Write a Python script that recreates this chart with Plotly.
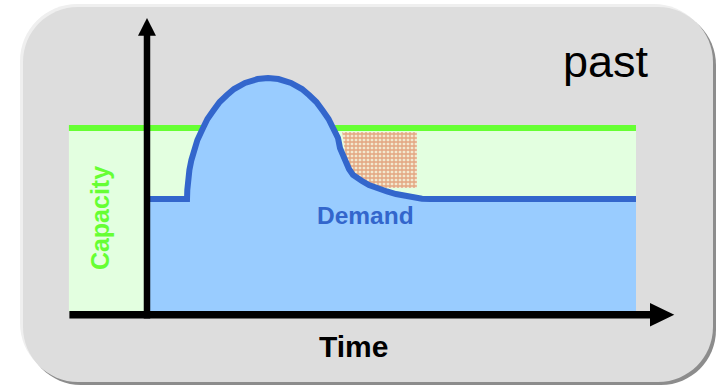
import plotly.graph_objects as go

W, H = 717, 387

# Demand over time (load in the same units as capacity, capacity = 100)
demand_time = [0.5, 8.2, 8.26, 8.4, 8.69, 9.1, 9.63, 10.33, 11.48, 12.38, 13.53, 14.88,
               16.39, 17.83, 20.08, 22.66, 24.8, 26.93, 29.51, 31.76, 33.2, 34.71, 36.07,
               37.21, 38.12, 39.14, 39.55, 40.37, 40.78, 41.39, 42.21, 43.03, 44.06, 45.49,
               47.34, 49.18, 51.02, 52.87, 54.51, 56.35, 57.99, 100.2]
demand_load = [61.4, 61.4, 66.3, 71.7, 77.2, 82.6, 88.0, 93.5, 100.0, 104.9, 109.2, 114.1,
               117.9, 121.2, 124.5, 126.6, 127.2, 126.6, 124.5, 121.2, 117.9, 114.1, 109.2,
               104.9, 100.0, 94.6, 89.1, 84.2, 79.9, 77.7, 74.5, 72.8, 71.2, 69.0,
               66.9, 65.5, 64.1, 63.0, 62.0, 61.6, 61.4, 61.4]

# Provisioned capacity
capacity_time = [-16.0, 100.2]
capacity_load = [100, 100]

# Idle capacity right after the peak
idle_time = [40.0, 55.3, 55.3, 49.0, 45.3, 42.4, 41.0, 40.6, 40.0]
idle_load = [97.8, 97.8, 67.4, 67.4, 69.6, 73.4, 78.3, 86.4, 97.8]

labels = {"past": "past", "capacity": "Capacity", "demand": "Demand", "time": "Time"}

X_RANGE = [-30.12, 116.8]
Y_RANGE = [-40.76, 169.57]

FONT = "Liberation Sans, Arial, Helvetica, sans-serif"
GREEN_LINE = "#66FF33"
GREEN_FILL = "#E3FFE0"
BLUE_LINE = "#3366CC"
BLUE_FILL = "#99CCFF"

fig = go.Figure()

fig.add_trace(go.Scatter(
    x=capacity_time, y=capacity_load, mode="lines",
    line=dict(color=GREEN_LINE, width=6),
    fill="tozeroy", fillcolor=GREEN_FILL, hoverinfo="skip",
))

fig.add_trace(go.Scatter(
    x=idle_time, y=idle_load, mode="lines", line=dict(width=0),
    fill="toself", fillcolor="rgba(0,0,0,0)",
    fillpattern=dict(shape="+", size=4, solidity=0.55,
                     fgcolor="#D4622E", bgcolor="#F2E9D0"),
    hoverinfo="skip",
))

fig.add_trace(go.Scatter(
    x=demand_time, y=demand_load, mode="lines",
    line=dict(color=BLUE_LINE, width=6),
    fill="tozeroy", fillcolor=BLUE_FILL, hoverinfo="skip",
))


def px2paper(x, y):
    return x / W, 1 - y / H


def rounded_rect(x0, y0, x1, y1, r):
    k = 0.5523 * r

    def P(x, y):
        a, b = px2paper(x, y)
        return f"{a:.5f},{b:.5f}"

    return (
        f"M {P(x0 + r, y0)} L {P(x1 - r, y0)} "
        f"C {P(x1 - r + k, y0)} {P(x1, y0 + r - k)} {P(x1, y0 + r)} "
        f"L {P(x1, y1 - r)} "
        f"C {P(x1, y1 - r + k)} {P(x1 - r + k, y1)} {P(x1 - r, y1)} "
        f"L {P(x0 + r, y1)} "
        f"C {P(x0 + r - k, y1)} {P(x0, y1 - r + k)} {P(x0, y1 - r)} "
        f"L {P(x0, y0 + r)} "
        f"C {P(x0, y0 + r - k)} {P(x0 + r - k, y0)} {P(x0 + r, y0)} Z"
    )


shapes = [
    # panel: shadow, highlight, face
    dict(type="path", xref="paper", yref="paper", layer="below",
         path=rounded_rect(26, 10, 716, 385, 55), fillcolor="#8C8C8C", line=dict(width=0)),
    dict(type="path", xref="paper", yref="paper", layer="below",
         path=rounded_rect(20, 4, 711, 380, 57), fillcolor="#EFEFEF", line=dict(width=0)),
    dict(type="path", xref="paper", yref="paper", layer="below",
         path=rounded_rect(23, 7, 713, 382, 55), fillcolor="#DDDDDD", line=dict(width=0)),
    # vertical axis with arrow
    dict(type="line", xref="x", yref="y", layer="above", x0=0, x1=0, y0=-3.5, y1=151,
         line=dict(color="black", width=6.5)),
    dict(type="path", xref="x", yref="y", layer="above",
         path="M -1.84,150.2 L 1.84,150.2 L 0,159.8 Z", fillcolor="black", line=dict(width=0)),
    # horizontal axis with arrow
    dict(type="line", xref="x", yref="y", layer="above", x0=-15.9, x1=103.5, y0=-1.47, y1=-1.47,
         line=dict(color="black", width=7.5)),
    dict(type="path", xref="x", yref="y", layer="above",
         path="M 103.07,4.89 L 103.07,-7.83 L 108.05,-1.47 Z", fillcolor="black", line=dict(width=0)),
]

annotations = [
    dict(x=94.1, y=135.9, text=labels["past"], showarrow=False, xanchor="center", yanchor="middle",
         font=dict(family=FONT, size=45, color="black")),
    dict(x=44.7, y=52.2, text=f"<b>{labels['demand']}</b>", showarrow=False,
         xanchor="center", yanchor="middle", font=dict(family=FONT, size=24.5, color=BLUE_LINE)),
    dict(x=42.4, y=-19.0, text=f"<b>{labels['time']}</b>", showarrow=False,
         xanchor="center", yanchor="middle", font=dict(family=FONT, size=30, color="black")),
    dict(x=-9.6, y=51.1, text=f"<b>{labels['capacity']}</b>", showarrow=False, textangle=-90,
         xanchor="center", yanchor="middle", font=dict(family=FONT, size=25, color=GREEN_LINE)),
]

fig.update_layout(
    width=W, height=H, autosize=False,
    margin=dict(l=0, r=0, t=0, b=0, pad=0),
    paper_bgcolor="white", plot_bgcolor="white",
    showlegend=False,
    xaxis=dict(range=X_RANGE, visible=False, fixedrange=True),
    yaxis=dict(range=Y_RANGE, visible=False, fixedrange=True),
    shapes=shapes, annotations=annotations,
)

fig.write_html("out.html", config={"displayModeBar": False})
